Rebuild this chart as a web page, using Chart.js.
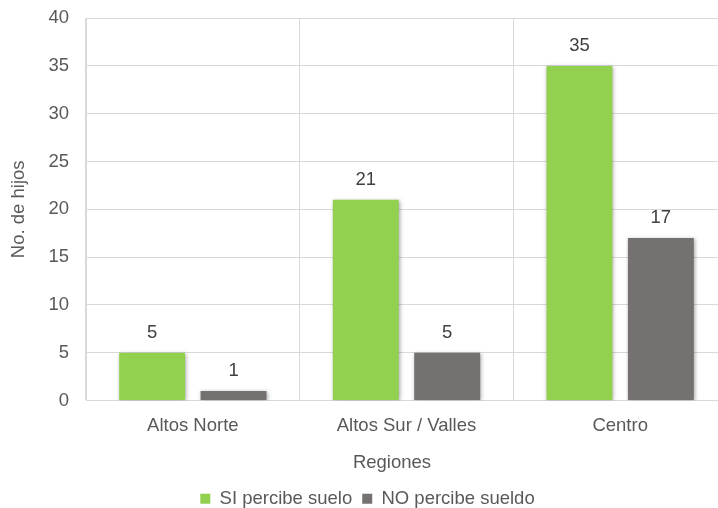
<!DOCTYPE html>
<html>
<head>
<meta charset="utf-8">
<script src="https://cdn.jsdelivr.net/npm/chart.js@4/dist/chart.umd.min.js"></script>
<style>
  html, body { margin: 0; padding: 0; overflow: hidden; background: #fff; }
  #wrap { width: 738px; height: 528px; margin-top: -10px; }
</style>
</head>
<body>
<div id="wrap"><canvas id="chart"></canvas></div>
<script>
// Datos
const regiones = ['Altos Norte', 'Altos Sur / Valles', 'Centro'];
const siPercibe = [5, 21, 35];
const noPercibe = [1, 5, 17];
const seriesNames = ['SI percibe suelo', 'NO percibe sueldo'];

const fontFam = "'Liberation Sans', Arial, sans-serif";
const textColor = '#595959';
const fontSize = 18.5;

// sombra de las barras
const barShadow = {
    id: 'barShadow',
    beforeDatasetsDraw(chart) {
        const ctx = chart.ctx;
        ctx.save();
        ctx.shadowColor = 'rgba(0,0,0,0.35)';
        ctx.shadowBlur = 4;
        ctx.shadowOffsetX = 1;
        ctx.shadowOffsetY = 1;
    },
    afterDatasetsDraw(chart) {
        chart.ctx.restore();
    }
};

// etiquetas de valores y título del eje X
const valueLabels = {
    id: 'valueLabels',
    afterDraw(chart) {
        const ctx = chart.ctx;
        ctx.save();
        ctx.font = fontSize + 'px ' + fontFam;
        ctx.fillStyle = '#404040';
        ctx.textAlign = 'center';
        ctx.textBaseline = 'middle';
        chart.data.datasets.forEach((ds, i) => {
            chart.getDatasetMeta(i).data.forEach((bar, j) => {
                ctx.fillText(ds.data[j], bar.x, bar.y - 20);
            });
        });
        ctx.fillStyle = textColor;
        ctx.fillText('Regiones', 392, chart.chartArea.bottom + 62);
        ctx.restore();
    }
};

const ctx = document.getElementById('chart').getContext('2d');
new Chart(ctx, {
    type: 'bar',
    data: {
        labels: regiones,
        datasets: [{
            label: seriesNames[0],
            data: siPercibe,
            backgroundColor: '#92D050',
            barPercentage: 0.81,
            categoryPercentage: 0.762
        }, {
            label: seriesNames[1],
            data: noPercibe,
            backgroundColor: '#767171',
            barPercentage: 0.81,
            categoryPercentage: 0.762
        }]
    },
    options: {
        responsive: true,
        maintainAspectRatio: false,
        animation: false,
        layout: { padding: { left: 8, right: 11, top: 0, bottom: 0 } },
        plugins: {
            legend: {
                position: 'bottom',
                labels: {
                    boxWidth: 10,
                    boxHeight: 10,
                    padding: 10,
                    color: textColor,
                    font: { family: fontFam, size: fontSize }
                }
            },
            tooltip: { enabled: false }
        },
        scales: {
            x: {
                grid: { color: '#d9d9d9', drawTicks: false, offset: true },
                border: { color: '#d9d9d9' },
                ticks: { color: textColor, padding: 14, font: { family: fontFam, size: fontSize } },
                afterFit(scale) { scale.height = 79; }
            },
            y: {
                min: 0,
                max: 40,
                ticks: { stepSize: 5, color: textColor, padding: 17, font: { family: fontFam, size: fontSize } },
                grid: { color: '#d9d9d9', drawTicks: false },
                border: { color: '#d9d9d9' },
                title: {
                    display: true,
                    text: 'No. de hijos',
                    color: textColor,
                    font: { family: fontFam, size: fontSize },
                    padding: 0
                },
                afterFit(scale) { scale.width = 78; }
            }
        }
    },
    plugins: [barShadow, valueLabels]
});
</script>
</body>
</html>
